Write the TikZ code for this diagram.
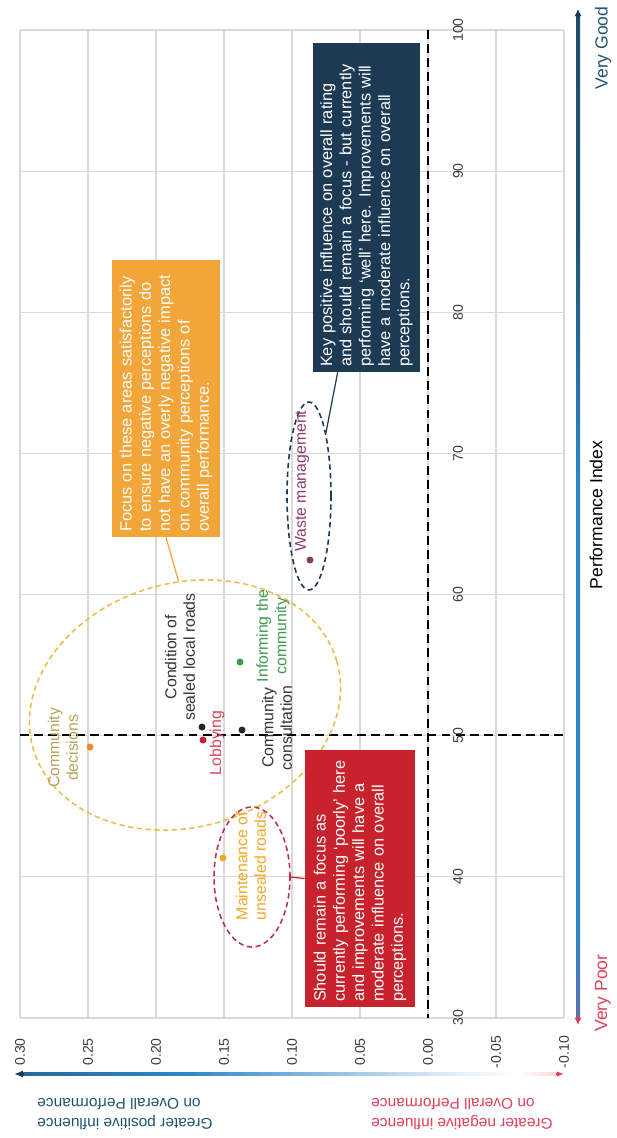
\documentclass[tikz,border=0pt]{standalone}
\usepackage{fontspec}
\setmainfont{Liberation Sans}
\usetikzlibrary{shapes.geometric,arrows.meta}

\definecolor{navyc}{HTML}{1D3A54}
\definecolor{notered}{HTML}{C8232C}
\definecolor{noteorange}{HTML}{F2A63A}
\definecolor{gridgray}{HTML}{D9D9D9}
\definecolor{tickgray}{HTML}{3C3C3C}
\definecolor{goldtext}{HTML}{B5A35A}
\definecolor{ringgold}{HTML}{E6C04A}
\definecolor{ringred}{HTML}{C0304F}
\definecolor{lobbyred}{HTML}{D9485A}
\definecolor{greentext}{HTML}{3F9A4F}
\definecolor{wastetext}{HTML}{8C3A6E}
\definecolor{dotorange}{HTML}{F28C28}
\definecolor{dotyellow}{HTML}{F5A623}
\definecolor{goodblue}{HTML}{1F5573}
\definecolor{poorred}{HTML}{E0405A}
\definecolor{midblue}{HTML}{2C86C8}
\definecolor{paleblue}{HTML}{DCEAF6}
\definecolor{palered}{HTML}{F2A4AE}
\definecolor{barpurple}{HTML}{8A5A92}

\pgfdeclarehorizontalshading{influencebar}{100bp}{color(0bp)=(navyc); color(40bp)=(midblue); color(64bp)=(paleblue); color(71bp)=(white); color(80bp)=(palered); color(100bp)=(poorred)}
\pgfdeclareverticalshading{performancebar}{100bp}{color(0bp)=(poorred); color(12bp)=(poorred); color(20bp)=(barpurple); color(30bp)=(midblue); color(52bp)=(midblue); color(64bp)=(goodblue); color(100bp)=(navyc)}

\tikzset{
  gridline/.style={draw=gridgray, line width=0.6pt},
  refline/.style={black, line width=1.3pt, dash pattern=on 5pt off 3pt},
  ticklabel/.style={rotate=90, text=tickgray, font=\fontsize{8}{9}\selectfont, inner sep=1pt},
  datadot/.style={circle, inner sep=0pt, minimum size=0.14cm},
  pointlabel/.style={rotate=90, align=center, inner sep=0pt, font=\fontsize{9}{10.5}\selectfont},
  ring/.style={ellipse, inner sep=0pt, line width=0.9pt, dash pattern=on 3pt off 2pt},
  notebox/.style={rotate=90, text=white, align=left, inner xsep=0.1cm, font=\fontsize{9.3}{11}\selectfont},
  leader/.style={line width=0.7pt},
  sidelabel/.style={rotate=180, inner sep=0pt, font=\fontsize{8.8}{11}\selectfont},
  axistitle/.style={rotate=90, inner sep=0pt, font=\fontsize{10}{12}\selectfont}
}

\begin{document}
\begin{tikzpicture}[x=0.02cm, y=-0.02cm]
  \useasboundingbox (0,0) rectangle (616,1138);

  % grid of the plot
  \foreach \gx in {20,88,...,564}
    \draw[gridline] (\gx,30) -- (\gx,1018);
  \foreach \gy in {0,...,7}
    \draw[gridline] (20,30+141.14*\gy) -- (564,30+141.14*\gy);

  % axis numbers
  \foreach \val [count=\i from 0] in {100,90,...,30}
    \node[ticklabel] at (458,30+141.14*\i) {\val};
  \foreach \val [count=\i from 0] in {0.30,0.25,0.20,0.15,0.10,0.05,0.00,-0.05,-0.10}
    \node[ticklabel] at (20+68*\i,1052) {\val};

  % dashed quadrant lines
  \draw[refline] (428,30) -- (428,1018);
  \draw[refline] (20,735) -- (564,735);

  % rings
  \node[ring, draw=ringgold, minimum width=6.32cm, minimum height=4.88cm, rotate=16] (focusring) at (185,705) {};
  \node[ring, draw=ringred, minimum width=1.52cm, minimum height=2.8cm] (unsealedring) at (252,877) {};
  \node[ring, draw=navyc, minimum width=0.88cm, minimum height=3.76cm] (wastering) at (309,496) {};

  % data points
  \node[datadot, fill=dotorange] (commdec) at (90,747) {};
  \node[datadot, fill=black!85] (sealed) at (202,727) {};
  \node[datadot, fill=notered] (lobby) at (203,740) {};
  \node[datadot, fill=black!85] (consult) at (242,730) {};
  \node[datadot, fill=greentext] (inform) at (240,662) {};
  \node[datadot, fill=dotyellow] (unsealed) at (223,858) {};
  \node[datadot, fill=wastetext] (waste) at (310,560) {};

  \node[pointlabel, text=goldtext] (commdeclab) at (63,748) {Community\\decisions};
  \node[pointlabel, text=black!80] (sealedlab) at (180,657) {Condition of\\sealed local roads};
  \node[pointlabel, text=lobbyred] (lobbylab) at (217,743) {Lobbying};
  \node[pointlabel, text=black!80] (consultlab) at (277,728) {Community\\consultation};
  \node[pointlabel, text=greentext] (informlab) at (273,636) {Informing the\\community};
  \node[pointlabel, text=dotyellow] (unsealedlab) at (251,866) {Maintenance of\\unsealed roads};
  \node[pointlabel, text=wastetext, anchor=west] (wastelab) at (302,552) {Waste management};

  % call-out boxes
  \node[notebox, fill=noteorange, minimum width=5.54cm, minimum height=2.16cm, text width=5.34cm] (orangenote) at (166,398.5)
    {Focus on these areas satisfactorily\\to ensure negative perceptions do\\not have an overly negative impact\\on community perceptions of\\overall performance.};
  \node[notebox, fill=navyc, minimum width=6.58cm, minimum height=2.14cm, text width=6.38cm] (navynote) at (366.5,207.5)
    {Key positive influence on overall rating\\and should remain a focus - but currently\\performing `well' here. Improvements will\\have a moderate influence on overall\\perceptions.};
  \node[notebox, fill=notered, minimum width=5.14cm, minimum height=2.2cm, text width=4.94cm] (rednote) at (360,878.5)
    {Should remain a focus as\\currently performing `poorly' here\\and improvements will have a\\moderate influence on overall\\perceptions.};

  \draw[leader, noteorange] (orangenote.west) -- (focusring.77);
  \draw[leader, notered] (unsealedring.east) -- (rednote.north);
  \draw[leader, navyc] (wastering.75) -- ([xshift=0.5cm]navynote.north west);

  % influence axis
  \shade[shading=influencebar] (20,1072.5) rectangle (560,1075.5);
  \draw[-{Latex[length=5pt,width=4pt]}, navyc, line width=1pt] (24,1074) -- (14,1074);
  \draw[-{Latex[length=4pt,width=3pt]}, poorred, line width=1pt] (556,1074) -- (564,1074);
  \node[sidelabel, text=goodblue, anchor=east, align=right] (poslab) at (37,1114)
    {Greater positive influence\\on Overall Performance};
  \node[sidelabel, text=poorred, anchor=east, align=right] (neglab) at (371,1114)
    {Greater negative influence\\on Overall Performance};

  % performance axis
  \shade[shading=performancebar] (576,14) rectangle (580,1020);
  \draw[-{Latex[length=4pt,width=4pt]}, navyc, line width=1pt] (578,18) -- (578,9);
  \draw[-{Latex[length=4pt,width=4pt]}, poorred, line width=1pt] (578,1016) -- (578,1025);
  \node[axistitle, text=goodblue] (verygood) at (603,48) {Very Good};
  \node[axistitle] (pilabel) at (596,515) {Performance Index};
  \node[axistitle, text=poorred] (verypoor) at (603,993) {Very Poor};
\end{tikzpicture}
\end{document}
